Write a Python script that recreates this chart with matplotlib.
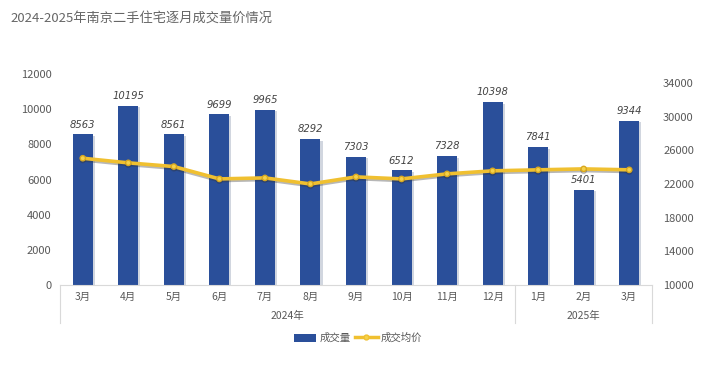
import matplotlib
matplotlib.use("Agg")
import matplotlib.pyplot as plt
import matplotlib.patheffects as pe
from matplotlib.lines import Line2D
from matplotlib.patches import Patch
import numpy as np

plt.rcParams["font.family"] = ["Noto Sans CJK SC", "DejaVu Sans"]

# data
months = ["3月", "4月", "5月", "6月", "7月", "8月", "9月", "10月", "11月", "12月", "1月", "2月", "3月"]
years = ["2024年", "2025年"]
year_counts = [10, 3]
volume = [8563, 10195, 8561, 9699, 9965, 8292, 7303, 6512, 7328, 10398, 7841, 5401, 9344]
avg_price = [25080, 24530, 24090, 22620, 22740, 22020, 22860, 22620, 23220, 23580, 23700, 23810, 23700]

BAR_COLOR = "#2A4F9A"
LINE_COLOR = "#F0C030"
TXT = "#595959"

fig = plt.figure(figsize=(7.14, 3.68), dpi=100)
ax = fig.add_axes([60 / 714, 1 - 285 / 368, 592 / 714, 211 / 368])
ax2 = ax.twinx()

x = np.arange(len(months))
ax.bar(x, volume, width=0.44, color=BAR_COLOR, zorder=2,
       path_effects=[pe.SimplePatchShadow(offset=(1.5, -1), shadow_rgbFace="#9aa4b8", alpha=0.45), pe.Normal()])
for xi, v in zip(x, volume):
    ax.text(xi, v + 280, str(v), ha="center", va="bottom", fontsize=7.2, style="italic",
            color="#444444", family="DejaVu Sans")

ax2.plot(x, avg_price, color=LINE_COLOR, lw=2.6, marker="o", ms=3.8,
         markerfacecolor="#F5D24A", markeredgecolor="#D9A820", zorder=3,
         path_effects=[pe.SimpleLineShadow(offset=(0, -1.2), shadow_color="#333333", alpha=0.35), pe.Normal()])

ax.set_xlim(-0.5, len(months) - 0.5)
ax.set_ylim(0, 12000)
ax.set_yticks(range(0, 12001, 2000))
ax2.set_ylim(10000, 35100)
ax2.set_yticks(range(10000, 34001, 4000))

for a in (ax, ax2):
    for s in a.spines.values():
        s.set_visible(False)
    a.tick_params(axis="y", length=0, labelsize=8, labelcolor=TXT)
ax.tick_params(axis="y", pad=6)
ax2.tick_params(axis="y", pad=8)
ax.set_xticks([])

# multi-level category axis
trans = ax.get_xaxis_transform()
line_kw = dict(color="#d9d9d9", lw=0.8, clip_on=False, transform=trans)
ax.add_line(Line2D([-0.5, len(months) - 0.5], [0, 0], **line_kw))
for xi, m in zip(x, months):
    ax.text(xi, -0.055, m, ha="center", va="center", fontsize=7.5, color=TXT, transform=trans)
start = -0.5
bounds = [start]
for yr, n in zip(years, year_counts):
    ax.text(start + n / 2, -0.145, yr, ha="center", va="center", fontsize=7.5, color=TXT, transform=trans)
    start += n
    bounds.append(start)
for b in bounds:
    ax.add_line(Line2D([b, b], [0, -0.18], **line_kw))

# legend
handles = [Patch(facecolor=BAR_COLOR, edgecolor="none"),
           Line2D([], [], color=LINE_COLOR, lw=2.5, marker="o", ms=3.5, markerfacecolor="#F5D24A")]
fig.legend(handles, ["成交量", "成交均价"], loc="center", bbox_to_anchor=(358 / 714, 1 - 338 / 368),
           ncol=2, frameon=False, fontsize=7.5, labelcolor=TXT, handlelength=2.2,
           handleheight=0.8, columnspacing=0.4, handletextpad=0.3)

fig.text(10 / 714, 1 - 18 / 368, "2024-2025年南京二手住宅逐月成交量价情况", fontsize=9.5,
         color="#666666", ha="left", va="center")

fig.savefig("out.png", dpi=100, facecolor="white")
